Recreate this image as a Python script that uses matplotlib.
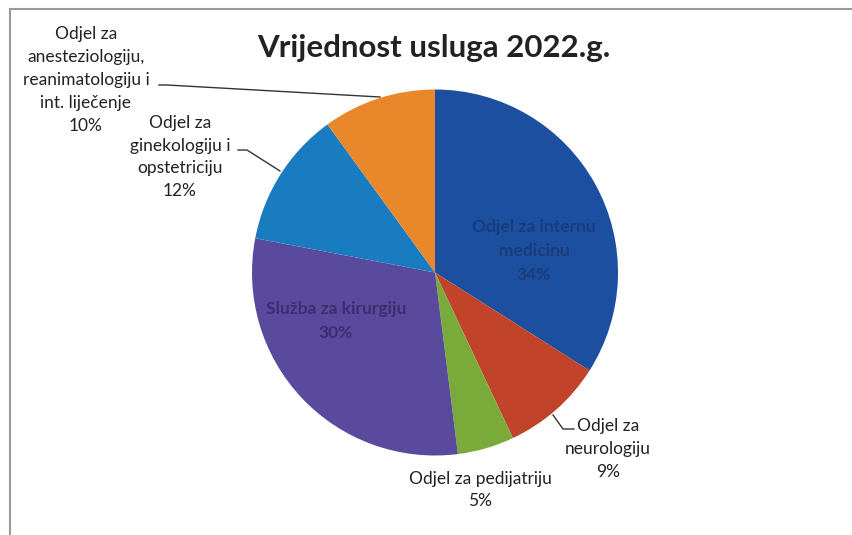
import matplotlib
matplotlib.use("Agg")
import matplotlib.pyplot as plt

plt.rcParams['font.family'] = ['Lato', 'DejaVu Sans']

# data
departments = [
    "Odjel za internu\nmedicinu",
    "Odjel za\nneurologiju",
    "Odjel za pedijatriju",
    "Služba za kirurgiju",
    "Odjel za\nginekologiju i\nopstetriciju",
    "Odjel za\nanesteziologiju,\nreanimatologiju i\nint. liječenje",
]
shares = [34, 9, 5, 30, 12, 10]
colors = ["#1d4fa0", "#c0432a", "#7aab3a", "#5a4a9e", "#1a7cc0", "#e8882a"]

W, H = 852, 535
fig = plt.figure(figsize=(W / 100, H / 100), dpi=100)
ax = fig.add_axes([0, 0, 1, 1])

# pixel coords from the top-left, converted to axes coords
def py(y):
    return H - y

cx, cy, r = 435, 272.5, 183
wedges, _ = ax.pie(shares, colors=colors, startangle=90, counterclock=False,
                   center=(cx, py(cy)), radius=r, frame=True,
                   wedgeprops=dict(linewidth=0))
ax.set_xlim(0, W)
ax.set_ylim(0, H)
ax.set_aspect('equal')
ax.axis('off')

# frame of the chart area
ax.plot([10, W], [py(9), py(9)], color="#9a9a9a", lw=1.5)
ax.plot([10, 10], [py(9), 0], color="#9a9a9a", lw=1.5)

ax.text(434, py(48), "Vrijednost usluga 2022.g.", ha='center', va='center',
        fontsize=22.5, fontweight='bold', color="#222222")

txt = "#222222"
lbl = lambda i: f"{departments[i]}\n{shares[i]}%"
fs = 12.5
ls = 1.52

# inside labels
ax.text(534, py(251), lbl(0), ha='center', va='center', fontsize=fs,
        fontweight='bold', color="#1a3c7a", linespacing=1.58)
ax.text(336, py(321), lbl(3), ha='center', va='center', fontsize=fs,
        fontweight='bold', color="#3a2f70", linespacing=1.58)

# outside labels
ax.text(86, py(80), lbl(5), ha='center', va='center', fontsize=fs,
        color=txt, linespacing=ls)
ax.text(180, py(157), lbl(4), ha='center', va='center', fontsize=fs,
        color=txt, linespacing=ls)
ax.text(608, py(449), lbl(1), ha='center', va='center', fontsize=fs,
        color=txt, linespacing=ls)
ax.text(480, py(490), lbl(2), ha='center', va='center', fontsize=fs,
        color=txt, linespacing=ls)

# leader lines
ax.plot([159, 167, 380], [py(85), py(85), py(97)], color="#333333", lw=1)
ax.plot([238, 247, 280], [py(150), py(150), py(171)], color="#333333", lw=1)
ax.plot([553, 563, 574], [py(415), py(429), py(429)], color="#333333", lw=1)

fig.savefig("out.png", dpi=100, facecolor='white')
